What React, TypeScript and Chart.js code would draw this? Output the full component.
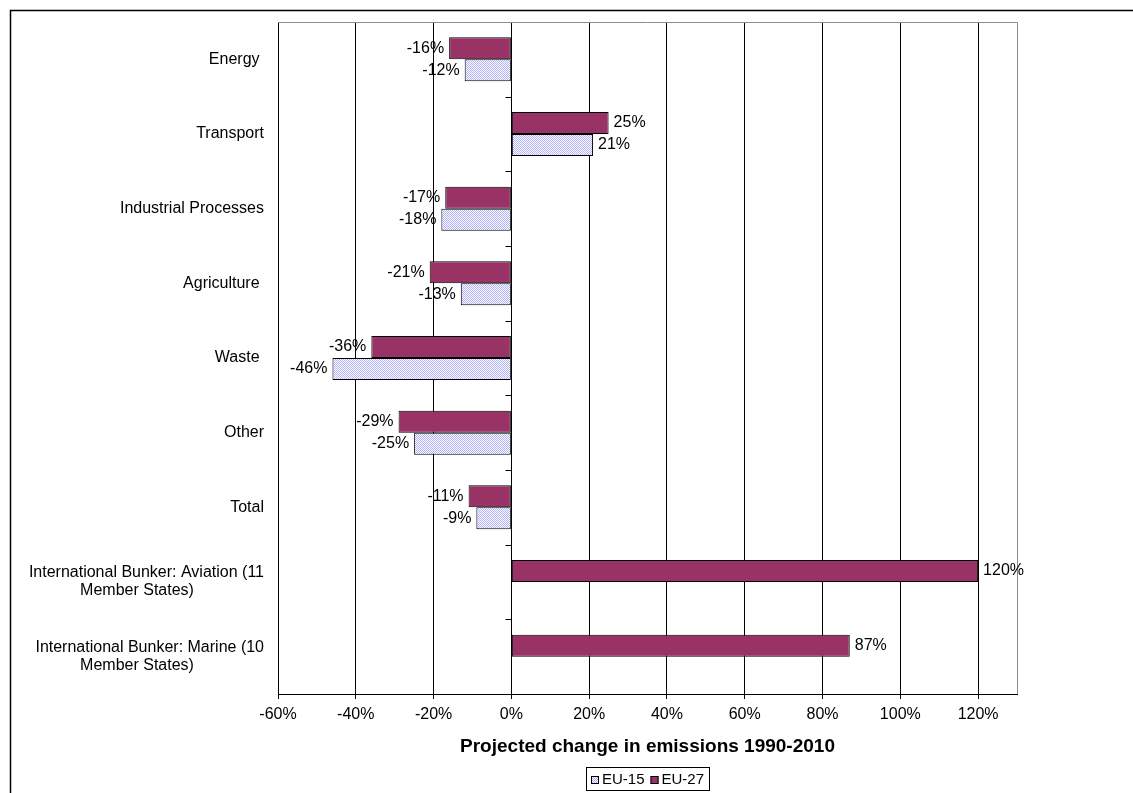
import React, { useEffect, useRef } from "react";
import { Chart, registerables } from "chart.js";

Chart.register(...registerables);

const categories: (string | string[])[] = [
  "Energy ",
  "Transport",
  "Industrial Processes",
  "Agriculture ",
  "Waste ",
  "Other",
  "Total",
  ["International Bunker: Aviation (11", "Member States)"],
  ["International Bunker: Marine (10", "Member States)"],
];
const eu27: (number | null)[] = [-16, 25, -17, -21, -36, -29, -11, 120, 87];
const eu15: (number | null)[] = [-12, 21, -18, -13, -46, -25, -9, null, null];
const xTicks = [-60, -40, -20, 0, 20, 40, 60, 80, 100, 120];
const xMin = -60;
const xMax = 130;
const xTitle = "Projected change in emissions 1990-2010";
const seriesNames = ["EU-27", "EU-15"];

const FONT = "'Liberation Sans', Arial, sans-serif";
const MAROON = "#993366";

function makePattern(): CanvasPattern | string {
  const c = document.createElement("canvas");
  c.width = 2;
  c.height = 2;
  const g = c.getContext("2d");
  if (!g) return "#d8d8ff";
  g.fillStyle = "#ffffff";
  g.fillRect(0, 0, 2, 2);
  g.fillStyle = "#b0b0ff";
  g.fillRect(0, 0, 1, 1);
  g.fillRect(1, 1, 1, 1);
  const p = g.createPattern(c, "repeat");
  return p || "#d8d8ff";
}

export default function App() {
  const ref = useRef<HTMLCanvasElement | null>(null);

  useEffect(() => {
    const canvas = ref.current;
    if (!canvas) return;
    const pattern = makePattern();

    const decor = {
      id: "decor",
      afterDraw(chart: any) {
        const ctx = chart.ctx;
        const ca = chart.chartArea;
        const x = chart.scales.x;
        const y = chart.scales.y;
        ctx.save();

        // outer frame (top + left)
        ctx.strokeStyle = "#000";
        ctx.lineWidth = 1.5;
        ctx.beginPath();
        ctx.moveTo(10.5, chart.height);
        ctx.lineTo(10.5, 10.5);
        ctx.lineTo(chart.width, 10.5);
        ctx.stroke();

        // plot area border (top + right)
        ctx.strokeStyle = "#8c8c8c";
        ctx.lineWidth = 1;
        ctx.beginPath();
        ctx.moveTo(ca.left, ca.top + 0.5);
        ctx.lineTo(ca.right + 0.5, ca.top + 0.5);
        ctx.lineTo(ca.right + 0.5, ca.bottom);
        ctx.stroke();

        // category tick marks on the zero axis
        const x0 = Math.round(x.getPixelForValue(0)) + 0.5;
        ctx.strokeStyle = "#000";
        ctx.beginPath();
        const n = categories.length;
        const step = (ca.bottom - ca.top) / n;
        for (let k = 1; k < n; k++) {
          const yy = Math.round(ca.top + k * step) + 0.5;
          ctx.moveTo(x0 - 6, yy);
          ctx.lineTo(x0, yy);
        }
        ctx.stroke();

        // category labels
        ctx.fillStyle = "#000";
        ctx.font = `16px ${FONT}`;
        ctx.textBaseline = "middle";
        categories.forEach((lab, i) => {
          const yc = y.getPixelForTick(i);
          const lines = Array.isArray(lab) ? lab : [lab];
          const lh = 18;
          lines.forEach((ln, j) => {
            const yy = yc + (j - (lines.length - 1) / 2) * lh;
            if (j === 0) {
              ctx.textAlign = "right";
              ctx.fillText(ln, 264, yy);
            } else {
              ctx.textAlign = "center";
              ctx.fillText(ln, 137, yy);
            }
          });
        });

        // value labels
        ctx.font = `16px ${FONT}`;
        chart.data.datasets.forEach((ds: any, di: number) => {
          const meta = chart.getDatasetMeta(di);
          meta.data.forEach((el: any, i: number) => {
            const v = ds.data[i];
            if (v === null || v === undefined) return;
            const txt = `${v}%`;
            if (v < 0) {
              ctx.textAlign = "right";
              ctx.fillText(txt, el.x - 5, el.y);
            } else {
              ctx.textAlign = "left";
              ctx.fillText(txt, el.x + 5, el.y);
            }
          });
        });

        // axis title
        const cx = (ca.left + ca.right) / 2;
        ctx.font = `bold 19px ${FONT}`;
        ctx.textAlign = "center";
        ctx.fillText(xTitle, cx, 747);

        // legend (reverse order: EU-15, EU-27)
        ctx.font = `15px ${FONT}`;
        const items = [
          { name: seriesNames[1], fill: pattern },
          { name: seriesNames[0], fill: MAROON },
        ];
        const pad = 5, patch = 8, gap = 3, spacing = 6;
        const widths = items.map((it) => ctx.measureText(it.name).width);
        const total =
          pad * 2 + items.length * (patch + gap) + widths.reduce((a, b) => a + b, 0) + spacing * (items.length - 1);
        const lx = Math.round(cx - total / 2);
        const boxTop = 767;
        const boxH = 23;
        ctx.strokeStyle = "#000";
        ctx.lineWidth = 1;
        ctx.strokeRect(lx + 0.5, boxTop + 0.5, Math.round(total), boxH);
        const ly = boxTop + boxH / 2 + 1;
        let px = lx + pad;
        items.forEach((it, k) => {
          ctx.fillStyle = it.fill as any;
          ctx.fillRect(px, Math.round(ly - patch / 2), patch, patch);
          ctx.strokeRect(px + 0.5, Math.round(ly - patch / 2) + 0.5, patch - 1, patch - 1);
          ctx.fillStyle = "#000";
          ctx.textAlign = "left";
          ctx.fillText(it.name, px + patch + gap, ly);
          px += patch + gap + widths[k] + spacing;
        });

        ctx.restore();
      },
    };

    const chart = new Chart(canvas, {
      type: "bar",
      data: {
        labels: categories as any,
        datasets: [
          {
            label: seriesNames[0],
            data: eu27,
            backgroundColor: MAROON,
            borderColor: "#000",
            borderWidth: 1,
            borderSkipped: false,
          },
          {
            label: seriesNames[1],
            data: eu15,
            backgroundColor: pattern as any,
            borderColor: "#000",
            borderWidth: 1,
            borderSkipped: false,
          },
        ],
      },
      options: {
        indexAxis: "y",
        animation: false,
        responsive: false,
        devicePixelRatio: 1,
        layout: { padding: { top: 22, right: 116, left: 0, bottom: 0 } },
        datasets: { bar: { categoryPercentage: 0.59, barPercentage: 1 } },
        plugins: {
          legend: { display: false },
          tooltip: { enabled: false },
        },
        scales: {
          x: {
            type: "linear",
            min: xMin,
            max: xMax,
            afterBuildTicks: (s: any) => {
              s.ticks = xTicks.map((v) => ({ value: v }));
            },
            afterFit: (s: any) => {
              s.height = 99;
            },
            grid: { color: "#000", lineWidth: 1, tickLength: 5, drawTicks: true },
            border: { color: "#000", width: 1 },
            ticks: {
              color: "#000",
              font: { family: FONT, size: 16 },
              padding: 6,
              callback: (v: any) => `${v}%`,
            },
          },
          y: {
            type: "category",
            afterFit: (s: any) => {
              s.width = 278;
            },
            grid: { display: false },
            border: { display: false },
            ticks: { display: false },
          },
        },
      },
      plugins: [decor],
    });

    return () => chart.destroy();
  }, []);

  return (
    <div style={{ position: "absolute", left: 0, top: 0, width: 1133, height: 793, background: "#fff" }}>
      <canvas ref={ref} width={1133} height={793} style={{ display: "block" }} />
    </div>
  );
}
